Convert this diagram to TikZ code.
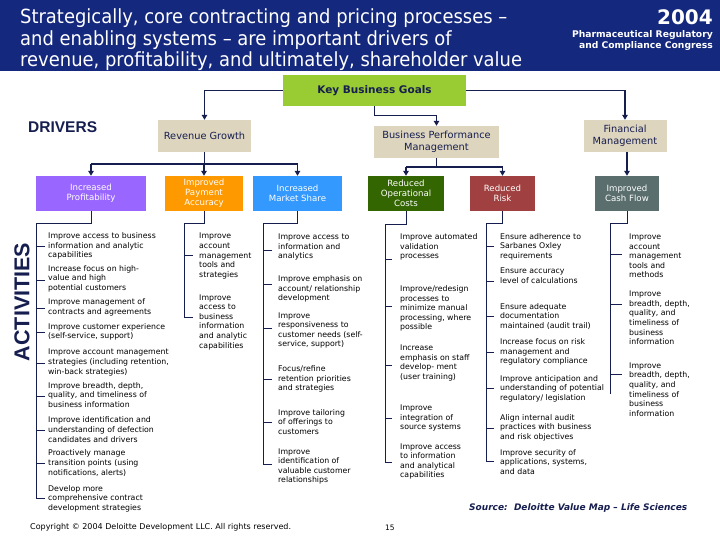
\documentclass[tikz,border=0pt]{standalone}
\usepackage{fontspec}
\setmainfont{DejaVu Sans}
\newfontfamily\titlefont[FakeStretch=0.92]{DejaVu Sans}
\newfontfamily\arialfont{Liberation Sans}
\usetikzlibrary{arrows.meta}
\definecolor{hdrblue}{RGB}{20,40,125}
\definecolor{navy}{RGB}{22,30,80}
\definecolor{kbggreen}{RGB}{153,204,51}
\definecolor{tan}{RGB}{221,213,190}
\definecolor{cpurple}{RGB}{153,102,255}
\definecolor{corange}{RGB}{255,153,0}
\definecolor{cblue}{RGB}{51,153,255}
\definecolor{cdgreen}{RGB}{51,102,0}
\definecolor{cred}{RGB}{160,64,64}
\definecolor{cslate}{RGB}{90,110,110}
\tikzset{
  goal/.style={fill=tan, text=navy, align=center, inner sep=1pt, minimum height=32pt,
    font=\fontsize{9.8}{11.5}\selectfont},
  drv/.style={fill=#1, text=white, align=center, inner sep=1pt, minimum height=35pt,
    font=\fontsize{8.6}{10}\selectfont},
  conn/.style={draw=navy, line width=1.4pt},
  arr/.style={conn, -{Triangle[length=5pt,width=5.5pt]}},
  spine/.style={draw=navy, line width=0.9pt},
  item/.style={anchor=west, align=left, inner sep=0pt, text=black,
    font=\fontsize{7.8}{9.6}\selectfont},
}
\begin{document}
\begin{tikzpicture}[x=1pt,y=-1pt]
\useasboundingbox (0,0) rectangle (720,540);
\fill[white] (0,0) rectangle (720,540);
% header
\fill[hdrblue] (0,0) rectangle (720,71);
\node[anchor=north west, align=left, text=white, inner sep=0pt,
  font=\titlefont\fontsize{19.5}{21.5}\selectfont] (title) at (20,8.5)
  {Strategically, core contracting and pricing processes –\\and enabling systems – are important drivers of\\revenue, profitability, and ultimately, shareholder value};
\node[anchor=north east, text=white, inner sep=0pt, font=\bfseries\fontsize{20}{22}\selectfont] (year) at (713,9.5) {2004};
\node[anchor=north east, align=right, text=white, inner sep=0pt,
  font=\bfseries\fontsize{9.2}{11}\selectfont] (congress) at (713,30.5)
  {Pharmaceutical Regulatory\\and Compliance Congress};
% key business goals
\node[fill=kbggreen, text=navy, minimum width=183pt, minimum height=31pt, inner sep=0pt,
  font=\bfseries\fontsize{10.5}{12}\selectfont] (kbg) at (374.5,90.5) {Key Business Goals};
\node[goal, minimum width=93pt] (rg) at (204.5,136) {Revenue Growth};
\node[goal, minimum width=125pt] (bpm) at (436.5,142) {Business Performance\\Management};
\node[goal, minimum width=83pt] (fm) at (625,136) {Financial\\Management};
% drivers
\node[anchor=west, text=navy, inner sep=0pt, font=\arialfont\bfseries\fontsize{15.5}{18}\selectfont] (drivers) at (28,127.5) {DRIVERS};
\node[drv=cpurple, minimum width=110pt] (ip) at (91,193.5) {Increased\\Profitability};
\node[drv=corange, minimum width=78pt] (pa) at (204,193.5) {Improved\\Payment\\Accuracy};
\node[drv=cblue, minimum width=89pt] (ms) at (297.5,193.5) {Increased\\Market Share};
\node[drv=cdgreen, minimum width=76pt] (roc) at (406,193.5) {Reduced\\Operational\\Costs};
\node[drv=cred, minimum width=65pt] (rr) at (502.5,193.5) {Reduced\\Risk};
\node[drv=cslate, minimum width=64pt] (cf) at (627,193.5) {Improved\\Cash Flow};
% connectors top
\draw[arr] (kbg.west) -| (rg.north);
\draw[arr] (kbg.east) -| (fm.north);
\draw[arr] (kbg.south) -- ++(0,9.5) -| (bpm.north);
\coordinate (rgj) at (204.5,164);
\draw[conn] (rg.south) -- (rgj);
\draw[conn] (ip.north |- rgj) -- (ms.north |- rgj);
\draw[arr] (ip.north |- rgj) -- (ip.north);
\draw[arr] (pa.north |- rgj) -- (pa.north);
\draw[arr] (ms.north |- rgj) -- (ms.north);
\coordinate (bpmj) at (436.5,167);
\draw[conn] (bpm.south) -- (bpmj);
\draw[conn] (roc.north |- bpmj) -- (rr.north |- bpmj);
\draw[arr] (roc.north |- bpmj) -- (roc.north);
\draw[arr] (rr.north |- bpmj) -- (rr.north);
\draw[arr] (fm.south -| cf.north) -- (cf.north);
% activities label
\node[rotate=90, text=navy, inner sep=0pt, font=\arialfont\bfseries\fontsize{21.5}{24}\selectfont] (activities) at (22,302) {ACTIVITIES};
% column 1
\draw[spine] (ip.south) |- (36,223) -- (36,498) -- (45,498);
\foreach \y in {246,280,308,332,363,396,430,463} \draw[spine] (36,\y) -- (45,\y);
\node[item] (a1) at (48,246) {Improve access to business\\information and analytic\\capabilities};
\node[item] (a2) at (48,278.5) {Increase focus on high-\\value and high\\potential customers};
\node[item] (a3) at (48,307.5) {Improve management of\\contracts and agreements};
\node[item] (a4) at (48,332) {Improve customer experience\\(self-service, support)};
\node[item] (a5) at (48,362.5) {Improve account management\\strategies (including retention,\\win-back strategies)};
\node[item] (a6) at (48,395) {Improve breadth, depth,\\quality, and timeliness of\\business information};
\node[item] (a7) at (48,429.5) {Improve identification and\\understanding of defection\\candidates and drivers};
\node[item] (a8) at (48,463) {Proactively manage\\transition points (using\\notifications, alerts)};
\node[item] (a9) at (48,498.5) {Develop more\\comprehensive contract\\development strategies};
% column 2
\draw[spine] (pa.south) |- (184,223) -- (184,317) -- (193,317);
\draw[spine] (184,255) -- (193,255);
\node[item] (b1) at (199,256) {Improve\\account\\management\\tools and\\strategies};
\node[item] (b2) at (199,322) {Improve\\access to\\business\\information\\and analytic\\capabilities};
% column 3
\draw[spine] (ms.south) |- (263,223) -- (263,464) -- (272,464);
\foreach \y in {250,284,328,379,422} \draw[spine] (263,\y) -- (272,\y);
\node[item] (c1) at (278,247) {Improve access to\\information and\\analytics};
\node[item] (c2) at (278,289) {Improve emphasis on\\account/ relationship\\development};
\node[item] (c3) at (278,330.5) {Improve\\responsiveness to\\customer needs (self-\\service, support)};
\node[item] (c4) at (278,379) {Focus/refine\\retention priorities\\and strategies};
\node[item] (c5) at (278,422) {Improve tailoring\\of offerings to\\customers};
\node[item] (c6) at (278,466.5) {Improve\\identification of\\valuable customer\\relationships};
% column 4
\draw[spine] (roc.south) |- (385,224) -- (385,462) -- (392,462);
\foreach \y in {259,306,365,418} \draw[spine] (385,\y) -- (392,\y);
\node[item] (d1) at (400,247) {Improve automated\\validation\\processes};
\node[item] (d2) at (400,308.5) {Improve/redesign\\processes to\\minimize manual\\processing, where\\possible};
\node[item] (d3) at (400,363) {Increase\\emphasis on staff\\develop- ment\\(user training)};
\node[item] (d4) at (400,418) {Improve\\integration of\\source systems};
\node[item] (d5) at (400,461.5) {Improve access\\to information\\and analytical\\capabilities};
% column 5
\draw[spine] (rr.south) |- (486,223) -- (486,461) -- (494,461);
\foreach \y in {246,281,316,352,388,428} \draw[spine] (486,\y) -- (494,\y);
\node[item] (e1) at (500,246.5) {Ensure adherence to\\Sarbanes Oxley\\requirements};
\node[item] (e2) at (500,276) {Ensure accuracy\\level of calculations};
\node[item] (e3) at (500,316.5) {Ensure adequate\\documentation\\maintained (audit trail)};
\node[item] (e4) at (500,352) {Increase focus on risk\\management and\\regulatory compliance};
\node[item] (e5) at (500,388.5) {Improve anticipation and\\understanding of potential\\regulatory/ legislation};
\node[item] (e6) at (500,427.5) {Align internal audit\\practices with business\\and risk objectives};
\node[item] (e7) at (500,462) {Improve security of\\applications, systems,\\and data};
% column 6
\draw[spine] (cf.south) |- (610,223) -- (610,394);
\foreach \y in {254,304,374} \draw[spine] (610,\y) -- (622,\y);
\node[item] (f1) at (629,256) {Improve\\account\\management\\tools and\\methods};
\node[item] (f2) at (629,318) {Improve\\breadth, depth,\\quality, and\\timeliness of\\business\\information};
\node[item] (f3) at (629,389.5) {Improve\\breadth, depth,\\quality, and\\timeliness of\\business\\information};
% footer
\node[anchor=west, inner sep=0pt, text=navy, font=\bfseries\itshape\fontsize{9}{10}\selectfont] (source) at (469,508) {Source:\ \ Deloitte Value Map – Life Sciences};
\node[anchor=west, inner sep=0pt, text=black, font=\fontsize{8}{9}\selectfont] (copy) at (30,527) {Copyright © 2004 Deloitte Development LLC. All rights reserved.};
\node[anchor=west, inner sep=0pt, text=black, font=\fontsize{7.5}{9}\selectfont] (page) at (385,528) {15};
\end{tikzpicture}
\end{document}
